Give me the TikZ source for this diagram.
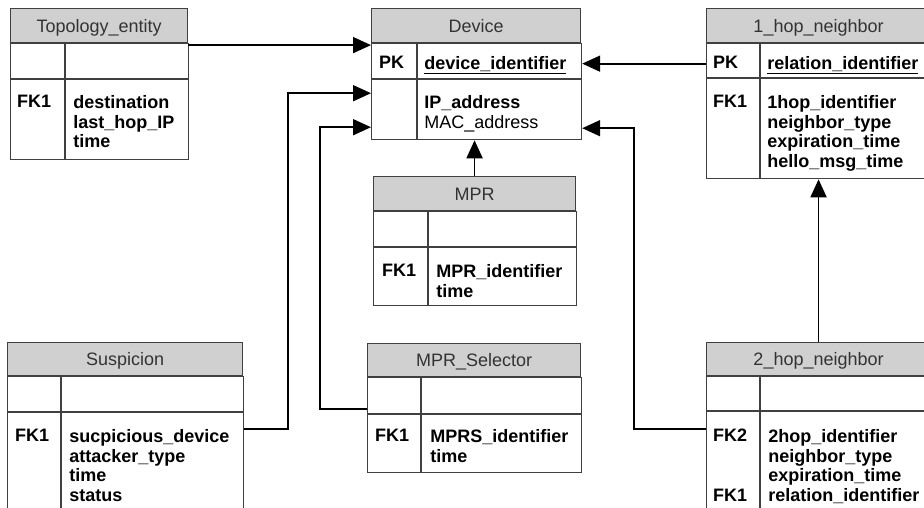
\documentclass[tikz,border=0pt]{standalone}
\usepackage{fontspec}
\setmainfont{Liberation Sans}
\usetikzlibrary{positioning}
\usetikzlibrary{arrows.meta}

\definecolor{hdrgray}{HTML}{D0D0D0}
\definecolor{rulegray}{HTML}{404040}

\begin{document}
\begin{tikzpicture}[x = 1pt, y = -1pt,
    tablehead/.style = {draw = rulegray, fill = hdrgray, line width = 1.1pt, anchor = north west, inner sep = 0pt, minimum height = 34pt, text = black!80, text height = 14pt, text depth = 1pt, font = \fontsize{18}{19.5}\selectfont},
    cell/.style = {draw = rulegray, line width = 1.1pt, anchor = north west, inner sep = 0pt},
    entry/.style = {anchor = north west, align = left, inner sep = 0pt, font = \fontsize{18}{19.7}\selectfont\bfseries},
    link/.style = {line width = 1.8pt, -{Triangle[length = 18pt, width = 16pt]}},
    ]
    \useasboundingbox (0, 0) rectangle (924, 508);
    \clip (0, 0) rectangle (924, 508);

    % Topology_entity
    \node[tablehead, minimum width = 177pt] (topo) at (10, 8) {Topology\_entity};
    \node[cell, minimum width = 54pt, minimum height = 35pt] (topo-k1) at (topo.south west) {};
    \node[cell, minimum width = 123pt, minimum height = 35pt] (topo-a1) at (topo-k1.north east) {};
    \node[cell, minimum width = 54pt, minimum height = 80pt] (topo-k2) at (topo-k1.south west) {};
    \node[cell, minimum width = 123pt, minimum height = 80pt] (topo-a2) at (topo-k2.north east) {};
    \node[entry] (topo-fk) at ([xshift = 7pt, yshift = -16pt]topo-k2.north west) {FK1};
    \node[entry] (topo-at) at ([xshift = 8pt, yshift = -16pt]topo-a2.north west) {destination\\last\_hop\_IP\\time};

    % Device
    \node[tablehead, minimum width = 209pt] (dev) at (371, 8) {Device};
    \node[cell, minimum width = 45pt, minimum height = 35pt] (dev-k1) at (dev.south west) {};
    \node[cell, minimum width = 164pt, minimum height = 35pt] (dev-a1) at (dev-k1.north east) {};
    \node[cell, minimum width = 45pt, minimum height = 60pt] (dev-k2) at (dev-k1.south west) {};
    \node[cell, minimum width = 164pt, minimum height = 60pt] (dev-a2) at (dev-k2.north east) {};
    \node[entry] (dev-pk) at ([xshift = 8pt, yshift = -13pt]dev-k1.north west) {PK};
    \node[entry] (dev-id) at ([xshift = 7pt, yshift = -13pt]dev-a1.north west) {\underline{device\_identifier}};
    \node[entry] (dev-at) at ([xshift = 7pt, yshift = -16pt]dev-a2.north west) {IP\_address\\{\mdseries MAC\_address}};

    % MPR
    \node[tablehead, minimum width = 202pt] (mpr) at (373, 176) {MPR};
    \node[cell, minimum width = 54pt, minimum height = 35pt] (mpr-k1) at (mpr.south west) {};
    \node[cell, minimum width = 148pt, minimum height = 35pt] (mpr-a1) at (mpr-k1.north east) {};
    \node[cell, minimum width = 54pt, minimum height = 58pt] (mpr-k2) at (mpr-k1.south west) {};
    \node[cell, minimum width = 148pt, minimum height = 58pt] (mpr-a2) at (mpr-k2.north east) {};
    \node[entry] (mpr-fk) at ([xshift = 9pt, yshift = -17pt]mpr-k2.north west) {FK1};
    \node[entry] (mpr-at) at ([xshift = 8pt, yshift = -17pt]mpr-a2.north west) {MPR\_identifier\\time};

    % 1_hop_neighbor
    \node[tablehead, minimum width = 224pt] (hop1) at (706, 8) {1\_hop\_neighbor};
    \node[cell, minimum width = 53pt, minimum height = 34pt] (hop1-k1) at (hop1.south west) {};
    \node[cell, minimum width = 171pt, minimum height = 34pt] (hop1-a1) at (hop1-k1.north east) {};
    \node[cell, minimum width = 53pt, minimum height = 100pt] (hop1-k2) at (hop1-k1.south west) {};
    \node[cell, minimum width = 171pt, minimum height = 100pt] (hop1-a2) at (hop1-k2.north east) {};
    \node[entry] (hop1-pk) at ([xshift = 7pt, yshift = -13pt]hop1-k1.north west) {PK};
    \node[entry] (hop1-id) at ([xshift = 7pt, yshift = -13pt]hop1-a1.north west) {\underline{relation\_identifier}};
    \node[entry] (hop1-fk) at ([xshift = 7pt, yshift = -17pt]hop1-k2.north west) {FK1};
    \node[entry] (hop1-at) at ([xshift = 7pt, yshift = -17pt]hop1-a2.north west) {1hop\_identifier\\neighbor\_type\\expiration\_time\\hello\_msg\_time};

    % 2_hop_neighbor
    \node[tablehead, minimum width = 224pt, minimum height = 33pt] (hop2) at (706, 342) {2\_hop\_neighbor};
    \node[cell, minimum width = 53pt, minimum height = 34pt] (hop2-k1) at (hop2.south west) {};
    \node[cell, minimum width = 171pt, minimum height = 34pt] (hop2-a1) at (hop2-k1.north east) {};
    \node[cell, minimum width = 53pt, minimum height = 120pt] (hop2-k2) at (hop2-k1.south west) {};
    \node[cell, minimum width = 171pt, minimum height = 120pt] (hop2-a2) at (hop2-k2.north east) {};
    \node[entry] (hop2-fk) at ([xshift = 7pt, yshift = -18pt]hop2-k2.north west) {FK2\\~\\~\\FK1};
    \node[entry] (hop2-at) at ([xshift = 8pt, yshift = -18pt]hop2-a2.north west) {2hop\_identifier\\neighbor\_type\\expiration\_time\\relation\_identifier};

    % Suspicion
    \node[tablehead, minimum width = 235pt, minimum height = 33pt] (susp) at (7, 342) {Suspicion};
    \node[cell, minimum width = 53pt, minimum height = 35pt] (susp-k1) at (susp.south west) {};
    \node[cell, minimum width = 182pt, minimum height = 35pt] (susp-a1) at (susp-k1.north east) {};
    \node[cell, minimum width = 53pt, minimum height = 120pt] (susp-k2) at (susp-k1.south west) {};
    \node[cell, minimum width = 182pt, minimum height = 120pt] (susp-a2) at (susp-k2.north east) {};
    \node[entry] (susp-fk) at ([xshift = 8pt, yshift = -17pt]susp-k2.north west) {FK1};
    \node[entry] (susp-at) at ([xshift = 8pt, yshift = -17pt]susp-a2.north west) {sucpicious\_device\\attacker\_type\\time\\status};

    % MPR_Selector
    \node[tablehead, minimum width = 213pt, minimum height = 33pt] (mprs) at (367, 343) {MPR\_Selector};
    \node[cell, minimum width = 53pt, minimum height = 36pt] (mprs-k1) at (mprs.south west) {};
    \node[cell, minimum width = 160pt, minimum height = 36pt] (mprs-a1) at (mprs-k1.north east) {};
    \node[cell, minimum width = 53pt, minimum height = 58pt] (mprs-k2) at (mprs-k1.south west) {};
    \node[cell, minimum width = 160pt, minimum height = 58pt] (mprs-a2) at (mprs-k2.north east) {};
    \node[entry] (mprs-fk) at ([xshift = 8pt, yshift = -15pt]mprs-k2.north west) {FK1};
    \node[entry] (mprs-at) at ([xshift = 9pt, yshift = -15pt]mprs-a2.north west) {MPRS\_identifier\\time};

    % links into Device
    \coordinate (dev-in2) at ([yshift = -14pt]dev-k2.north west);
    \coordinate (dev-in3) at ([yshift = -48pt]dev-k2.north west);
    \coordinate (dev-out) at ([yshift = -49pt]dev-a2.north east);

    \draw[link] ([yshift = -2pt]topo.south east) -- ([yshift = -2pt]dev.south west);
    \draw[link] ([yshift = -17pt]susp-a2.north east) -| ([xshift = -83pt]dev-in2) -- (dev-in2);
    \draw[link] ([yshift = 5pt]mprs-k1.south west) -| ([xshift = -51pt]dev-in3) -- (dev-in3);
    \draw[link] (mpr.north) -- (mpr.north |- dev-a2.south);
    \draw[link] ([yshift = -3pt]hop1-k1.west) -- ([yshift = -3pt]hop1-k1.west -| dev-a1.east);
    \draw[link] ([yshift = -18pt]hop2-k2.north west) -| ([xshift = 52pt]dev-out) -- (dev-out);
    \draw[link] (hop2.north) -- (hop2.north |- hop1-a2.south);
\end{tikzpicture}
\end{document}
